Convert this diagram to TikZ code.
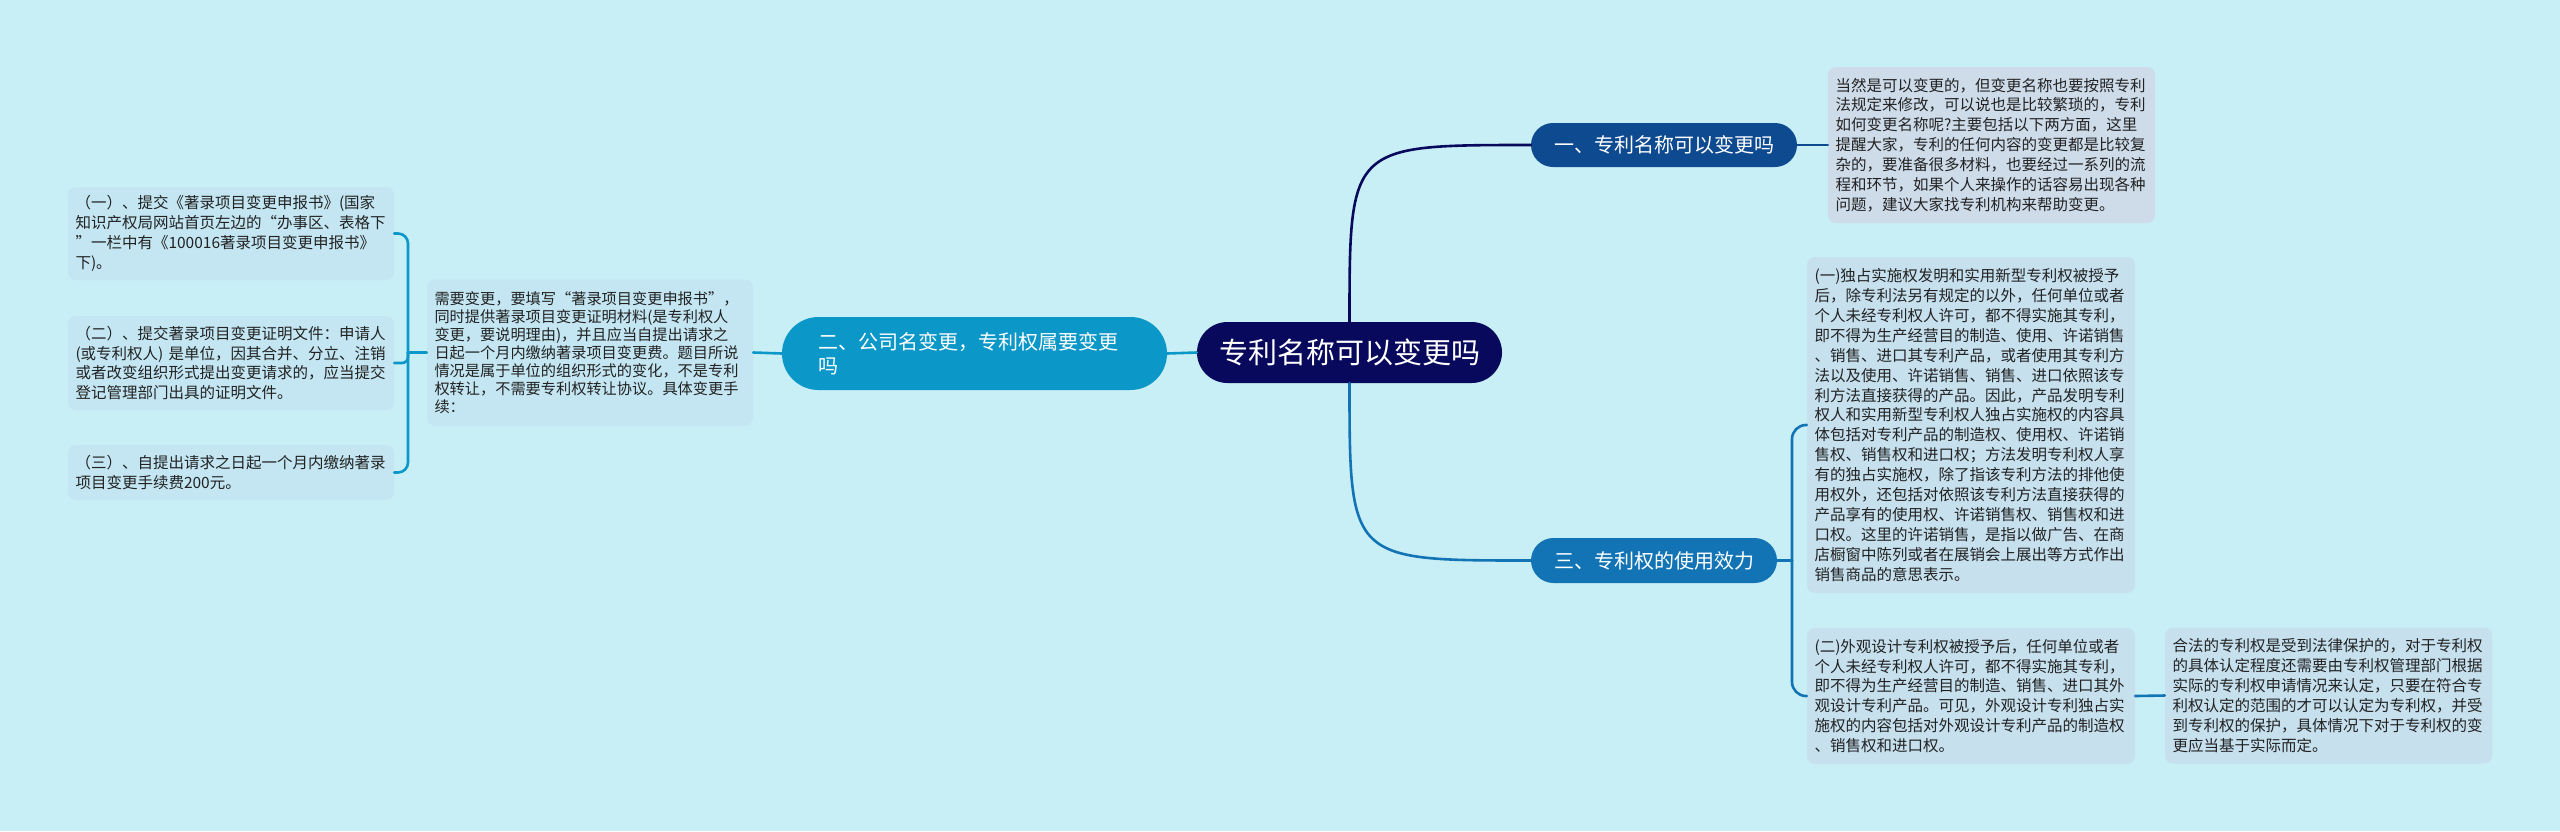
\documentclass[tikz,border=0pt]{standalone}
\usepackage{fontspec}
\newfontfamily\cjk{Noto Sans CJK SC}
\definecolor{bg}{HTML}{C8EEF6}
\definecolor{rootc}{HTML}{08095C}
\definecolor{b1c}{HTML}{0E4A90}
\definecolor{b2c}{HTML}{0B97C7}
\definecolor{b3c}{HTML}{1274B4}
\definecolor{l1c}{HTML}{CEDCEA}
\definecolor{l3c}{HTML}{C6E0EE}
\definecolor{l2c}{HTML}{C3E6F2}
\definecolor{txt}{HTML}{222222}
\tikzset{
  pill/.style={draw=none, text=white, inner sep=0pt, align=center},
  leafbox/.style={rounded corners=8pt, inner xsep=7.5pt, inner ysep=0pt, align=left, text=txt,
    font=\cjk\fontsize{15.5}{19.9}\selectfont},
  conn/.style={line width=2.6pt, line cap=round},
}
\begin{document}
\begin{tikzpicture}[x=1pt,y=-1pt]
\useasboundingbox (0,0) rectangle (2560,831);
\fill[bg] (0,0) rectangle (2560,831);

% main nodes
\node[pill, fill=rootc, rounded corners=30.5pt, minimum width=305pt, minimum height=61pt,
  font=\cjk\fontsize{29}{34}\selectfont] (root) at (1349.5,352.5) {专利名称可以变更吗};
\node[pill, fill=b1c, rounded corners=22pt, minimum width=266pt, minimum height=44pt,
  font=\cjk\fontsize{20}{24}\selectfont] (b1) at (1664,145) {一、专利名称可以变更吗};
\node[pill, fill=b3c, rounded corners=22.5pt, minimum width=246pt, minimum height=45pt,
  font=\cjk\fontsize{20}{24}\selectfont] (b3) at (1654,560.5) {三、专利权的使用效力};
\node[pill, fill=b2c, rounded corners=36.5pt, minimum width=385pt, minimum height=73pt,
  inner xsep=36pt, text width=313pt, align=left,
  font=\cjk\fontsize{20}{24}\selectfont] (b2) at (974.5,353.5) {二、公司名变更，专利权属要变更\\吗};

% leaves
\node[leafbox, fill=l1c, text width=312pt, minimum height=156pt] (l1) at (1991.5,145) {当然是可以变更的，但变更名称也要按照专利\\法规定来修改，可以说也是比较繁琐的，专利\\如何变更名称呢?主要包括以下两方面，这里\\提醒大家，专利的任何内容的变更都是比较复\\杂的，要准备很多材料，也要经过一系列的流\\程和环节，如果个人来操作的话容易出现各种\\问题，建议大家找专利机构来帮助变更。};

\node[leafbox, fill=l3c, text width=313pt, minimum height=336pt] (l3a) at (1971,425) {(一)独占实施权发明和实用新型专利权被授予\\后，除专利法另有规定的以外，任何单位或者\\个人未经专利权人许可，都不得实施其专利，\\即不得为生产经营目的制造、使用、许诺销售\\、销售、进口其专利产品，或者使用其专利方\\法以及使用、许诺销售、销售、进口依照该专\\利方法直接获得的产品。因此，产品发明专利\\权人和实用新型专利权人独占实施权的内容具\\体包括对专利产品的制造权、使用权、许诺销\\售权、销售权和进口权；方法发明专利权人享\\有的独占实施权，除了指该专利方法的排他使\\用权外，还包括对依照该专利方法直接获得的\\产品享有的使用权、许诺销售权、销售权和进\\口权。这里的许诺销售，是指以做广告、在商\\店橱窗中陈列或者在展销会上展出等方式作出\\销售商品的意思表示。};

\node[leafbox, fill=l3c, text width=313pt, minimum height=136pt] (l3b) at (1971,696) {(二)外观设计专利权被授予后，任何单位或者\\个人未经专利权人许可，都不得实施其专利，\\即不得为生产经营目的制造、销售、进口其外\\观设计专利产品。可见，外观设计专利独占实\\施权的内容包括对外观设计专利产品的制造权\\、销售权和进口权。};

\node[leafbox, fill=l3c, text width=312pt, minimum height=136pt] (l3c) at (2328.5,695.5) {合法的专利权是受到法律保护的，对于专利权\\的具体认定程度还需要由专利权管理部门根据\\实际的专利权申请情况来认定，只要在符合专\\利权认定的范围的才可以认定为专利权，并受\\到专利权的保护，具体情况下对于专利权的变\\更应当基于实际而定。};

\node[leafbox, fill=l2c, text width=311pt, minimum height=146pt,
  font=\cjk\fontsize{15.2}{18}\selectfont] (l2) at (590,352.5) {需要变更，要填写“著录项目变更申报书”，\\同时提供著录项目变更证明材料(是专利权人\\变更，要说明理由)，并且应当自提出请求之\\日起一个月内缴纳著录项目变更费。题目所说\\情况是属于单位的组织形式的变化，不是专利\\权转让，不需要专利权转让协议。具体变更手\\续：};

\node[leafbox, fill=l2c, text width=311pt, minimum height=93pt] (s1) at (231,233.5) {（一）、提交《著录项目变更申报书》(国家\\知识产权局网站首页左边的“办事区、表格下\\”一栏中有《100016著录项目变更申报书》\\下)。};
\node[leafbox, fill=l2c, text width=311pt, minimum height=94pt] (s2) at (231,363) {（二）、提交著录项目变更证明文件：申请人\\(或专利权人) 是单位，因其合并、分立、注销\\或者改变组织形式提出变更请求的，应当提交\\登记管理部门出具的证明文件。};
\node[leafbox, fill=l2c, text width=311pt, minimum height=55pt] (s3) at (231,472.5) {（三）、自提出请求之日起一个月内缴纳著录\\项目变更手续费200元。};

% spine coordinates
\coordinate (sp3) at (1792,560.5);
\coordinate (sp2) at (408,352.5);

% connectors
\draw[conn, draw=b2c] (root.west) -- (b2.east);
\draw[conn, draw=rootc] (root.north) .. controls (1349.5,145) .. (b1.west);
\draw[conn, draw=b3c] (root.south) .. controls (1349.5,560.5) .. (b3.west);

\draw[conn, draw=b1c] (b1.east) -- (l1.west);

\draw[conn, draw=b3c] (b3.east) -- (sp3);
\draw[conn, draw=b3c, rounded corners=14pt] (sp3) |- (l3a.west);
\draw[conn, draw=b3c, rounded corners=14pt] (sp3) |- (l3b.west);
\draw[conn, draw=b3c] (l3b.east) -- (l3c.west);

\draw[conn, draw=b2c] (b2.west) -- (l2.east);
\draw[conn, draw=b2c] (l2.west) -- (sp2);
\draw[conn, draw=b2c, rounded corners=10pt] (sp2) |- (s1.east);
\draw[conn, draw=b2c, rounded corners=6pt] (sp2) |- (s2.east);
\draw[conn, draw=b2c, rounded corners=10pt] (sp2) |- (s3.east);
\end{tikzpicture}
\end{document}
